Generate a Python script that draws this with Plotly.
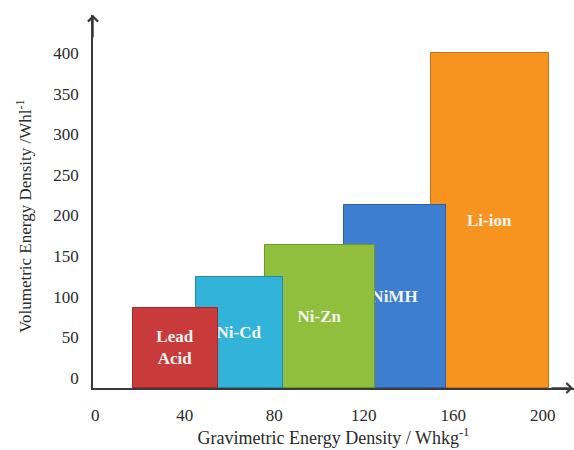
import plotly.graph_objects as go

# Battery chemistries: gravimetric span (Wh/kg) and volumetric energy density (Wh/l)
chemistries = ["Lead<br>Acid", "Ni-Cd", "Ni-Zn", "NiMH", "Li-ion"]
grav_low = [17, 45, 76, 111, 150]
grav_high = [55, 84, 125, 157, 203]
vol_density = [86, 124, 164, 213, 400]
colors = ["#C93A3A", "#31B3DA", "#8FBF3C", "#3E7ED0", "#F7941F"]
edge_colors = ["#9E2A2A", "#2389AB", "#6E962B", "#2D5FA3", "#C7731A"]

x_ticks = [0, 40, 80, 120, 160, 200]
y_ticks = [0, 50, 100, 150, 200, 250, 300, 350, 400]

X_RANGE = [-1, 214]
Y_RANGE = [-12.3, 446.8]
FLOOR = Y_RANGE[0]

SERIF = "Liberation Serif"

fig = go.Figure()

# Draw from right to left so each block sits in front of its right-hand neighbour
for i in reversed(range(len(chemistries))):
    lo, hi = grav_low[i], grav_high[i]
    fig.add_trace(go.Bar(
        x=[(lo + hi) / 2],
        width=[hi - lo],
        y=[vol_density[i] - FLOOR],
        base=[FLOOR],
        marker=dict(color=colors[i], line=dict(color=edge_colors[i], width=1)),
        text=[chemistries[i]],
        textposition="inside",
        insidetextanchor="middle",
        textangle=0,
        constraintext="none",
        textfont=dict(family=SERIF, size=17, color="#F4F4F0", weight="bold"),
        showlegend=False,
        hoverinfo="skip",
    ))

# pad y labels with no-break spaces so they line up on the left
def pad(v):
    s = str(v)
    return "\u00a0\u00a0" * (3 - len(s)) + s

fig.update_layout(
    width=574,
    height=450,
    margin=dict(l=93, r=0, t=15, b=62),
    paper_bgcolor="white",
    plot_bgcolor="white",
    barmode="overlay",
    bargap=0,
    font=dict(family=SERIF),
    xaxis=dict(
        range=X_RANGE,
        tickvals=x_ticks,
        ticktext=[str(v) for v in x_ticks],
        showgrid=False,
        zeroline=False,
        showline=True,
        linecolor="#3A3A3A",
        linewidth=1.5,
        ticks="",
        ticklabelstandoff=11,
        tickfont=dict(family=SERIF, size=17, color="#2A2A2A"),
        title=dict(text="Gravimetric Energy Density / Whkg<sup>-1</sup>",
                   font=dict(family=SERIF, size=18, color="#2A2A2A"),
                   standoff=3),
    ),
    yaxis=dict(
        range=Y_RANGE,
        tickvals=y_ticks,
        ticktext=[pad(v) for v in y_ticks],
        showgrid=False,
        zeroline=False,
        showline=True,
        linecolor="#3A3A3A",
        linewidth=1.5,
        ticks="",
        ticklabelstandoff=9,
        tickfont=dict(family=SERIF, size=17, color="#2A2A2A"),
    ),
    annotations=[
        # y-axis title, set a little below the middle of the axis
        dict(xref="paper", yref="paper", x=-0.142, y=0.46, xanchor="center",
             yanchor="middle", textangle=-90, showarrow=False,
             text="Volumetric Energy Density /Whl<sup>-1</sup>",
             font=dict(family=SERIF, size=17, color="#2A2A2A")),
        # arrowheads on the ends of both axes
        dict(xref="paper", yref="paper", x=0, y=1, ax=0, ay=24, text="",
             showarrow=True, arrowhead=4, arrowsize=1.3, arrowwidth=1.5,
             arrowcolor="#3A3A3A"),
        dict(xref="paper", yref="paper", x=1, y=0, ax=-24, ay=0, text="",
             showarrow=True, arrowhead=4, arrowsize=1.3, arrowwidth=1.5,
             arrowcolor="#3A3A3A"),
    ],
)

fig.write_html("out.html")
